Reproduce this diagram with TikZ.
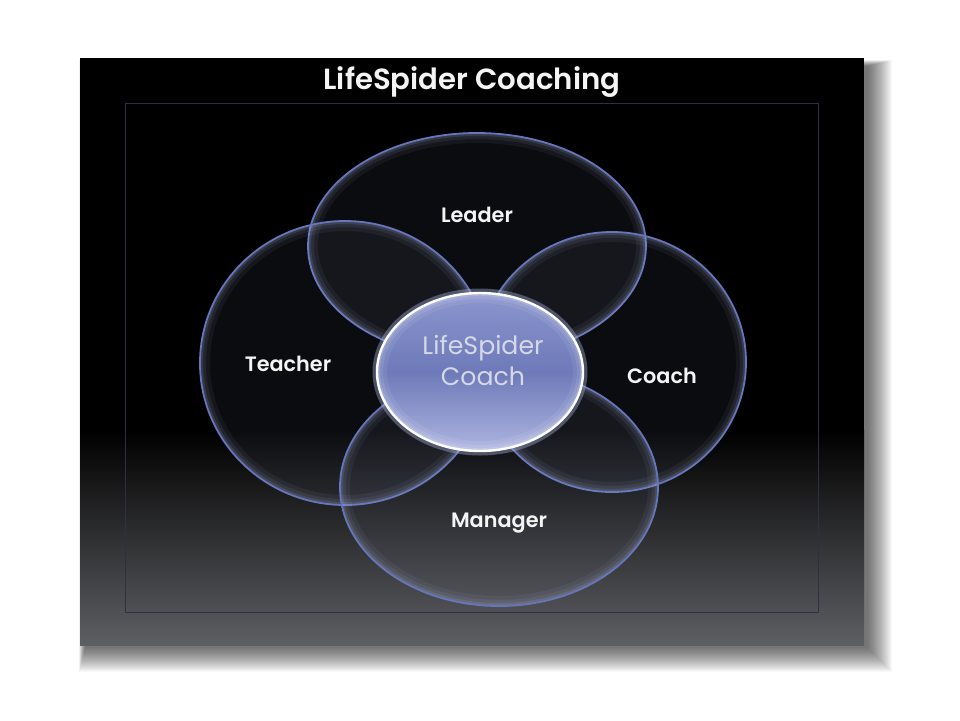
\documentclass[tikz,border=0pt]{standalone}
\usepackage{fontspec}
\setmainfont{Poppins}
\newfontfamily\semib{Poppins SemiBold}
\usepackage{tikz}
\usetikzlibrary{shapes.geometric, positioning, calc}
\definecolor{rimblue}{HTML}{6676BC}
\definecolor{glowblue}{HTML}{A8B4E0}
\definecolor{disctop}{HTML}{8C96CE}
\definecolor{discmid}{HTML}{6E7AB9}
\definecolor{discbot}{HTML}{AEB5E0}
\definecolor{slidegray}{HTML}{5E5F63}
\definecolor{labelwhite}{HTML}{F4F4F4}
\definecolor{disctext}{HTML}{D5D8E6}
\definecolor{framecol}{HTML}{2E2E48}

\tikzset{
  innerglow/.style={path picture={
    \foreach \w/\o in {10pt/0.07, 6pt/0.09, 3pt/0.14}
      \draw[#1, opacity=\o, line width=\w] let \p1=(path picture bounding box.north east),
              \p2=(path picture bounding box.center) in
        (\p2) ellipse [x radius=\x1-\x2, y radius=\y1-\y2];
  }},
}

\begin{document}
\begin{tikzpicture}[x=0.5pt, y=-0.5pt,
  petal/.style={ellipse, draw=rimblue, line width=0.9pt, fill=glowblue,
                fill opacity=0.07, inner sep=0pt, innerglow=glowblue},
  disc/.style={ellipse, top color=disctop, bottom color=discbot,
                middle color=discmid, draw=white, line width=1.2pt, inner sep=0pt,
                innerglow=white,
                preaction={draw=glowblue, draw opacity=0.4, line width=4.5pt}},
  tag/.style={text=labelwhite, font=\fontsize{10.4}{12}\semib},
]
  \useasboundingbox (0,0) rectangle (960,720);
  \fill[white] (0,0) rectangle (960,720);
  % soft shadow behind the slide
  \foreach \g in {0,...,24}
    \fill[black, opacity=0.028] (80+5-\g/4,58+8-\g/4) rectangle (864+4+\g,645+3+\g);
  % slide
  \fill[black] (80,58) rectangle (864,645);
  \shade[top color=black, bottom color=slidegray] (80,430) rectangle (864,645);
  \draw[framecol, line width=0.5pt] (125,103) rectangle (818,612);
  \node[text=labelwhite, font=\fontsize{14.6}{17}\semib] (title) at (472,82) {LifeSpider Coaching};

  % four overlapping roles
  \node[petal, minimum width=169pt, minimum height=113pt] (leader) at (477,246) {};
  \node[petal, minimum width=145pt, minimum height=142pt] (teacher) at (345,363) {};
  \node[petal, minimum width=134pt, minimum height=130pt] (coach) at (612,362) {};
  \node[petal, minimum width=159pt, minimum height=119pt] (manager) at (499,487) {};

  \node[tag] (leadertxt) at (477,215) {Leader};
  \node[tag] (teachertxt) at (288,364) {Teacher};
  \node[tag] (coachtxt) at (662,376) {Coach};
  \node[tag] (managertxt) at (499,523) {Manager};

  % centre
  \node[disc, minimum width=103pt, minimum height=79pt] (centre) at (480,372) {};
  \node[text=disctext, align=center, font=\fontsize{12.6}{15.5}\selectfont]
    (centretxt) at (483,360) {LifeSpider\\Coach};
\end{tikzpicture}
\end{document}
